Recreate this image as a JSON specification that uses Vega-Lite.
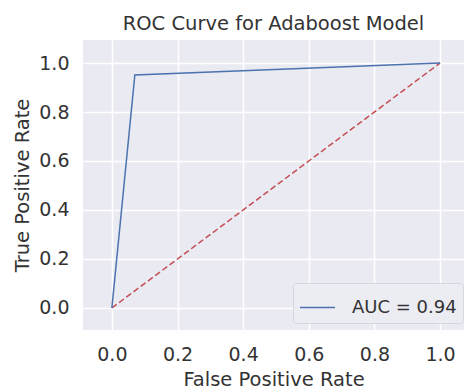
{
  "$schema": "https://vega.github.io/schema/vega-lite/v6.json",
  "autosize": {"type": "none"},
  "padding": {"left": 83, "top": 40, "right": 0, "bottom": 61},
  "width": 381,
  "height": 290,
  "background": "white",
  "config": {
    "font": "DejaVu Sans",
    "view": {"fill": "#EAEAF2", "stroke": null},
    "axis": {
      "domain": false,
      "ticks": false,
      "grid": true,
      "gridColor": "white",
      "gridWidth": 1.5,
      "labelFont": "DejaVu Sans",
      "labelFontSize": 19,
      "labelColor": "#333333",
      "titleFont": "DejaVu Sans",
      "titleFontSize": 19.5,
      "titleFontWeight": "normal",
      "titleColor": "#333333"
    },
    "title": {"font": "DejaVu Sans", "fontSize": 19.5, "fontWeight": "normal", "color": "#333333"}
  },
  "title": {"text": "ROC Curve for Adaboost Model", "offset": 6, "anchor": "middle"},
  "datasets": {
    "roc": [
      {"fpr": 0.0, "tpr": 0.0, "series": "AUC = 0.94"},
      {"fpr": 0.07, "tpr": 0.951, "series": "AUC = 0.94"},
      {"fpr": 1.0, "tpr": 1.0, "series": "AUC = 0.94"}
    ],
    "diag": [
      {"fpr": 0.0, "tpr": 0.0},
      {"fpr": 1.0, "tpr": 1.0}
    ]
  },
  "layer": [
    {
      "data": {"name": "diag"},
      "mark": {"type": "line", "color": "#C44E52", "strokeDash": [6, 3], "strokeWidth": 1.5, "clip": true},
      "encoding": {
        "x": {"field": "fpr", "type": "quantitative"},
        "y": {"field": "tpr", "type": "quantitative"}
      }
    },
    {
      "data": {"name": "roc"},
      "mark": {"type": "line", "strokeWidth": 1.5, "clip": true},
      "encoding": {
        "x": {
          "field": "fpr", "type": "quantitative",
          "scale": {"domain": [-0.088, 1.073], "nice": false, "zero": false},
          "axis": {"values": [0, 0.2, 0.4, 0.6, 0.8, 1.0], "format": ".1f", "labelPadding": 15, "title": "False Positive Rate", "titlePadding": 6}
        },
        "y": {
          "field": "tpr", "type": "quantitative",
          "scale": {"domain": [-0.09, 1.094], "nice": false, "zero": false},
          "axis": {"values": [0, 0.2, 0.4, 0.6, 0.8, 1.0], "format": ".1f", "labelPadding": 14, "title": "True Positive Rate", "titlePadding": 6}
        },
        "color": {
          "field": "series", "type": "nominal",
          "scale": {"domain": ["AUC = 0.94"], "range": ["#4C72B0"]},
          "legend": {
            "title": null,
            "orient": "none",
            "legendX": 210,
            "legendY": 243,
            "symbolType": "stroke",
            "symbolSize": 1225,
            "symbolStrokeWidth": 1.5,
            "labelFont": "DejaVu Sans",
            "labelFontSize": 18,
            "labelColor": "#333333",
            "labelOffset": 16,
            "padding": 6,
            "fillColor": "#ECECF3",
            "strokeColor": "#D6D6DE",
            "cornerRadius": 3
          }
        }
      }
    }
  ]
}
